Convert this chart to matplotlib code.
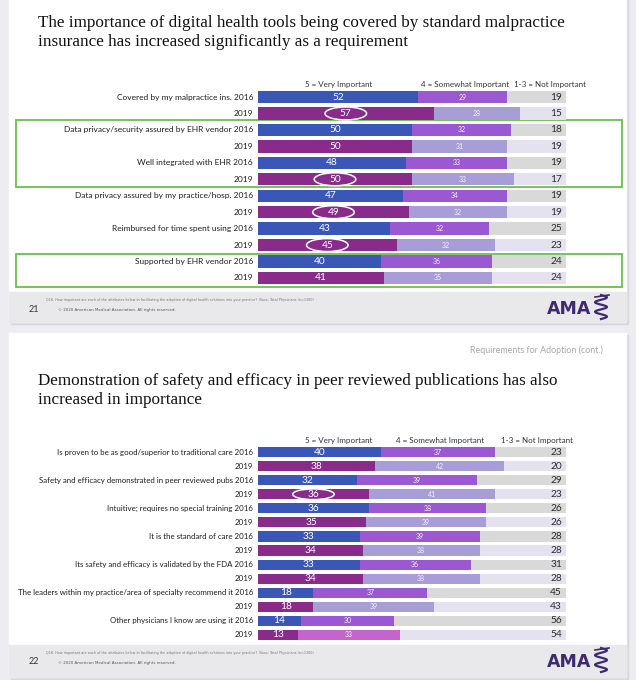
import matplotlib.pyplot as plt
from matplotlib.patches import Rectangle, Ellipse
import numpy as np

W, H = 636, 680

# ---- slide 21 data ----
labels21 = ['Covered by my malpractice ins. 2016', '2019',
            'Data privacy/security assured by EHR vendor 2016', '2019',
            'Well integrated with EHR 2016', '2019',
            'Data privacy assured by my practice/hosp. 2016', '2019',
            'Reimbursed for time spent using 2016', '2019',
            'Supported by EHR vendor 2016', '2019']
very21 = [52, 57, 50, 50, 48, 50, 47, 49, 43, 45, 40, 41]
somewhat21 = [29, 28, 32, 31, 33, 33, 34, 32, 32, 32, 36, 35]
notimp21 = [19, 15, 18, 19, 19, 17, 19, 19, 25, 23, 24, 24]
circled21 = [1, 5, 7, 9]

# ---- slide 22 data ----
labels22 = ['Is proven to be as good/superior to traditional care 2016', '2019',
            'Safety and efficacy demonstrated in peer reviewed pubs 2016', '2019',
            'Intuitive; requires no special training 2016', '2019',
            'It is the standard of care 2016', '2019',
            'Its safety and efficacy is validated by the FDA 2016', '2019',
            'The leaders within my practice/area of specialty recommend it 2016', '2019',
            'Other physicians I know are using it 2016', '2019']
very22 = [40, 38, 32, 36, 36, 35, 33, 34, 33, 34, 18, 18, 14, 13]
somewhat22 = [37, 42, 39, 41, 38, 39, 39, 38, 36, 38, 37, 39, 30, 33]
notimp22 = [23, 20, 29, 23, 26, 26, 28, 28, 31, 28, 45, 43, 56, 54]
circled22 = [3]

headers = ['5 = Very Important', '4 = Somewhat Important', '1-3 = Not Important']

# colours
c16 = ['#3a57b8', '#9a59d2', '#d9d9d9']
c19 = ['#892b8b', '#a89ed7', '#e5e2f0']
green = '#6cbd4e'
ama = '#3e2b6e'

label_font = 'Lato'

fig = plt.figure(figsize=(W / 100, H / 100), dpi=100)
fig.patch.set_facecolor('#ededf1')

bg = fig.add_axes([0, 0, 1, 1])
bg.set_xlim(0, W)
bg.set_ylim(H, 0)
bg.axis('off')


def px_axes(x0, y0, x1, y1):
    return fig.add_axes([x0 / W, 1 - y1 / H, (x1 - x0) / W, (y1 - y0) / H])


def draw_card(top, bottom, foot_top, num, title_lines, title_y):
    bg.add_patch(Rectangle((11, top + 2), 617, bottom - top, color='#d6d6dc', zorder=1))
    bg.add_patch(Rectangle((9, top), 617, bottom - top, color='white', zorder=2))
    bg.add_patch(Rectangle((9, foot_top), 617, bottom - foot_top, color='#e9e9eb', zorder=3))
    for i, line in enumerate(title_lines):
        bg.text(38, title_y + i * 18.5, line, fontsize=12.3, family='Liberation Serif',
                color='#111111', va='center', ha='left', zorder=5)
    bg.text(34, foot_top + 17, num, fontsize=6.5, family=label_font, color='#333333',
            va='center', ha='center', zorder=5)
    bg.text(46, foot_top + 8,
            'Q18. How important are each of the attributes below in facilitating the adoption of '
            'digital health solutions into your practice?  Base: Total Physicians (n=1300)',
            fontsize=2.4, family='DejaVu Sans', color='#777777', va='center', zorder=5)
    bg.text(58, foot_top + 18, '\u00a9 2020 American Medical Association. All rights reserved.',
            fontsize=2.9, family='DejaVu Sans', color='#555555', va='center', zorder=5)
    # AMA logo
    bg.text(591, foot_top + 17, 'AMA', fontsize=12.5, family='DejaVu Sans', weight='bold',
            color=ama, va='center', ha='right', zorder=5)
    t = np.linspace(0, 1, 40)
    bg.plot(601 + 6 * np.sin(t * 5 * np.pi), foot_top + 3 + 24 * t, color=ama, lw=1.6, zorder=5)
    bg.plot([595, 609], [foot_top + 5, foot_top + 3], color=ama, lw=1.2, zorder=5)


def draw_bars(ax, labels, very, somewhat, notimp, circled, bar_h, lab_fs, special=None):
    n = len(labels)
    rows = np.arange(n)
    for i in rows:
        pal = c16 if i % 2 == 0 else c19
        sc = pal[1]
        if special is not None and i == special[0]:
            sc = special[1]
        ax.barh(i, very[i], height=bar_h, color=pal[0], lw=0)
        ax.barh(i, somewhat[i], left=very[i], height=bar_h, color=sc, lw=0)
        ax.barh(i, notimp[i], left=very[i] + somewhat[i], height=bar_h, color=pal[2], lw=0)
        ax.text(very[i] / 2, i, str(very[i]), color='white', fontsize=7.3, family=label_font,
                ha='center', va='center')
        ax.text(very[i] + somewhat[i] / 2, i, str(somewhat[i]), color='#f4f0fa', fontsize=5,
                family=label_font, ha='center', va='center')
        ax.text(98.7, i, str(notimp[i]), color='#2b2b2b', fontsize=7.3, family=label_font,
                ha='right', va='center')
        ax.text(-1.6, i, labels[i], color='#1e1e1e', fontsize=lab_fs, family=label_font,
                ha='right', va='center', clip_on=False)
        if i in circled:
            ax.add_patch(Ellipse((very[i] / 2, i), 13.5, bar_h * 1.05, fill=False,
                                 ec='white', lw=1.1))
    ax.set_xlim(0, 100)
    ax.set_ylim(n - 0.5, -0.5)
    ax.axis('off')


# ---------- slide 21 ----------
draw_card(-5, 322, 292, '21',
          ['The importance of digital health tools being covered by standard malpractice',
           'insurance has increased significantly as a requirement'], 23)
for hx, h in zip([339, 465, 550], headers):
    bg.text(hx, 85, h, fontsize=5.8, family=label_font, color='#333333',
            ha='center', va='center', zorder=5)
bg.add_patch(Rectangle((16, 120), 606, 67, fill=False, ec=green, lw=1.3, zorder=5))
bg.add_patch(Rectangle((16, 254), 606, 33, fill=False, ec=green, lw=1.3, zorder=5))

ax1 = px_axes(258, 88.8, 566, 286.2)
draw_bars(ax1, labels21, very21, somewhat21, notimp21, circled21, 0.75, 6.0)

# ---------- slide 22 ----------
draw_card(333, 677, 645, '22',
          ['Demonstration of safety and efficacy in peer reviewed publications has also',
           'increased in importance'], 381)
bg.text(603, 350, 'Requirements for Adoption (cont.)', fontsize=6.4, family=label_font,
        color='#a8a8a8', ha='right', va='center', zorder=5)
for hx, h in zip([339, 440, 537], headers):
    bg.text(hx, 440, h, fontsize=5.8, family=label_font, color='#333333',
            ha='center', va='center', zorder=5)

ax2 = px_axes(258, 445, 566, 642)
draw_bars(ax2, labels22, very22, somewhat22, notimp22, circled22, 0.72, 5.7,
          special=(13, '#c565cc'))

fig.savefig('out.png', dpi=100, facecolor=fig.get_facecolor())
